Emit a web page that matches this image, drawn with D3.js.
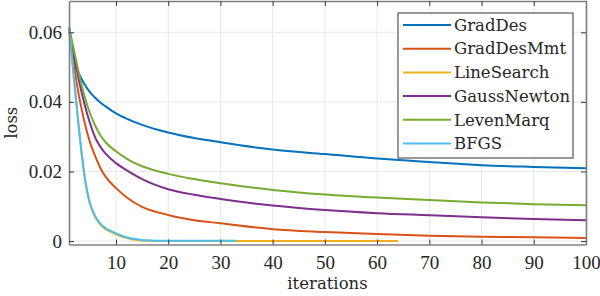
<!DOCTYPE html>
<html>
<head>
<meta charset="utf-8">
<script src="https://cdn.jsdelivr.net/npm/d3@7"></script>
<style>
  body { margin: 0; background: #fff; }
  text { font-family: "DejaVu Serif", "Liberation Serif", serif; fill: #262626; }
</style>
</head>
<body>
<div id="chart"></div>
<script>
// chart size
var svgWidth = 600;
var svgHeight = 296;

var margin = { top: 1, right: 14, bottom: 51.5, left: 69 };
var width = svgWidth - margin.left - margin.right;
var height = svgHeight - margin.top - margin.bottom;
var fontSize = "16.5px";

// data
var iters = [1, 2, 3, 4, 5, 6, 7, 8, 10, 12, 15, 20, 25, 30, 40, 50, 60, 70, 80, 90, 100];
var gradDes = [0.0615, 0.0515, 0.0478, 0.0450, 0.0428, 0.0412, 0.0398, 0.0387, 0.0367, 0.0352, 0.0334,
  0.0312, 0.0296, 0.0284, 0.0263, 0.0250, 0.0237, 0.0227, 0.0218, 0.0213, 0.0209];
var gradDesMmt = [0.0615, 0.0500, 0.0410, 0.0340, 0.0285, 0.0245, 0.0210, 0.0185, 0.0152, 0.0126, 0.0098,
  0.0075, 0.0060, 0.0051, 0.0034, 0.0026, 0.0020, 0.0015, 0.0012, 0.0011, 0.0009];
var gaussNewton = [0.0615, 0.0530, 0.0455, 0.0392, 0.0340, 0.0298, 0.0271, 0.0251, 0.0224, 0.0204, 0.0178,
  0.0149, 0.0133, 0.0121, 0.0102, 0.0089, 0.0080, 0.0074, 0.0068, 0.0063, 0.0060];
var levenMarq = [0.0615, 0.0545, 0.0475, 0.0415, 0.0368, 0.0332, 0.0304, 0.0284, 0.0258, 0.0237, 0.0215,
  0.0193, 0.0178, 0.0166, 0.0147, 0.0134, 0.0125, 0.0118, 0.0111, 0.0106, 0.0103];

var fastIters = [1, 2, 3, 4, 5, 6, 7, 8, 9, 10, 11, 12, 13, 14, 15, 16, 18, 20, 25, 33];
var bfgs = [0.0615, 0.0460, 0.0310, 0.0185, 0.0110, 0.0072, 0.0050, 0.0037, 0.0029, 0.0022, 0.0016,
  0.0011, 0.0007, 0.0005, 0.0003, 0.0002, 0.0001, 0.00006, 0.00005, 0.00005];
var lineIters = [1, 2, 3, 4, 5, 6, 7, 8, 9, 10, 11, 12, 13, 14, 15, 16, 18, 20, 25, 33, 64];
var lineSearch = [0.0615, 0.0458, 0.0307, 0.0182, 0.0107, 0.0069, 0.0047, 0.0034, 0.0026, 0.0019, 0.0013,
  0.0009, 0.0005, 0.0003, 0.0001, 0.00005, 0.0000, 0.0000, 0.0000, 0.0000, 0.0000];

var xTicks = [10, 20, 30, 40, 50, 60, 70, 80, 90, 100];
var yTicks = [0, 0.02, 0.04, 0.06];

var series = [
  { name: "GradDes", x: iters, y: gradDes, color: "#0072BD" },
  { name: "GradDesMmt", x: iters, y: gradDesMmt, color: "#D95319" },
  { name: "LineSearch", x: lineIters, y: lineSearch, color: "#EDB120" },
  { name: "GaussNewton", x: iters, y: gaussNewton, color: "#7E2F8E" },
  { name: "LevenMarq", x: iters, y: levenMarq, color: "#77AC30" },
  { name: "BFGS", x: fastIters, y: bfgs, color: "#4DBEEE" }
];

var svg = d3.select("#chart")
  .append("svg")
  .attr("width", svgWidth)
  .attr("height", svgHeight);

var chartGroup = svg.append("g")
  .attr("transform", `translate(${margin.left}, ${margin.top})`);

var xScale = d3.scaleLinear().domain([1, 100]).range([0, width]);
var yScale = d3.scaleLinear().domain([-0.001, 0.069]).range([height, 0]);

// grid
chartGroup.append("g")
  .selectAll("line")
  .data(xTicks)
  .enter()
  .append("line")
  .attr("x1", d => xScale(d)).attr("x2", d => xScale(d))
  .attr("y1", 0).attr("y2", height)
  .attr("stroke", "#e8e8e8").attr("stroke-width", 1);

chartGroup.append("g")
  .selectAll("line")
  .data(yTicks)
  .enter()
  .append("line")
  .attr("x1", 0).attr("x2", width)
  .attr("y1", d => yScale(d)).attr("y2", d => yScale(d))
  .attr("stroke", "#e8e8e8").attr("stroke-width", 1);

// curves
var line = d3.line()
  .x(d => xScale(d[0]))
  .y(d => yScale(d[1]))
  .curve(d3.curveMonotoneX);

// draw LineSearch first so BFGS sits on top of it
var drawOrder = [0, 1, 3, 4, 2, 5];
drawOrder.forEach(function(i) {
  var s = series[i];
  chartGroup.append("path")
    .datum(s.x.map((v, k) => [v, s.y[k]]))
    .attr("d", line)
    .attr("fill", "none")
    .attr("stroke", s.color)
    .attr("stroke-width", 2);
});

// axes (ticks inside, box on)
var bottomAxis = d3.axisBottom(xScale).tickValues(xTicks).tickSizeInner(-5).tickSizeOuter(0).tickPadding(11);
var topAxis = d3.axisTop(xScale).tickValues(xTicks).tickSizeInner(-5).tickSizeOuter(0).tickFormat("");
var leftAxis = d3.axisLeft(yScale).tickValues(yTicks).tickSizeInner(-5).tickSizeOuter(0).tickPadding(7)
  .tickFormat(d => d === 0 ? "0" : d3.format(".2f")(d));
var rightAxis = d3.axisRight(yScale).tickValues(yTicks).tickSizeInner(-5).tickSizeOuter(0).tickFormat("");

function styleAxis(g) {
  g.select(".domain").attr("stroke", "#808080").attr("stroke-width", 1.6);
  g.selectAll(".tick line").attr("stroke", "#3a3a3a").attr("stroke-width", 1);
  g.selectAll(".tick text")
    .style("font-family", "'Liberation Serif', serif")
    .style("font-size", "19px")
    .attr("fill", "#262626");
}

chartGroup.append("g").attr("transform", `translate(0, ${height})`).call(bottomAxis).call(styleAxis);
chartGroup.append("g").call(topAxis).call(styleAxis);
chartGroup.append("g").call(leftAxis).call(styleAxis);
chartGroup.append("g").attr("transform", `translate(${width}, 0)`).call(rightAxis).call(styleAxis);

// axis labels
chartGroup.append("text")
  .attr("transform", "rotate(-90)")
  .attr("x", -height / 2)
  .attr("y", 17 - margin.left)
  .style("text-anchor", "middle")
  .style("font-size", fontSize)
  .text("loss");

chartGroup.append("text")
  .attr("x", width / 2)
  .attr("y", 289 - margin.top)
  .style("text-anchor", "middle")
  .style("font-size", fontSize)
  .text("iterations");

// legend
var legend = svg.append("g").attr("transform", "translate(398, 13)");
legend.append("rect")
  .attr("width", 175).attr("height", 145)
  .attr("fill", "#fff").attr("stroke", "#333").attr("stroke-width", 1);

var items = legend.selectAll("g.item")
  .data(series)
  .enter()
  .append("g")
  .attr("transform", (d, i) => `translate(0, ${12 + i * 23.7})`);

items.append("line")
  .attr("x1", 5).attr("x2", 53)
  .attr("stroke", d => d.color).attr("stroke-width", 2);

items.append("text")
  .attr("x", 56)
  .attr("dy", "0.35em")
  .style("font-size", fontSize)
  .text(d => d.name);
</script>
</body>
</html>
